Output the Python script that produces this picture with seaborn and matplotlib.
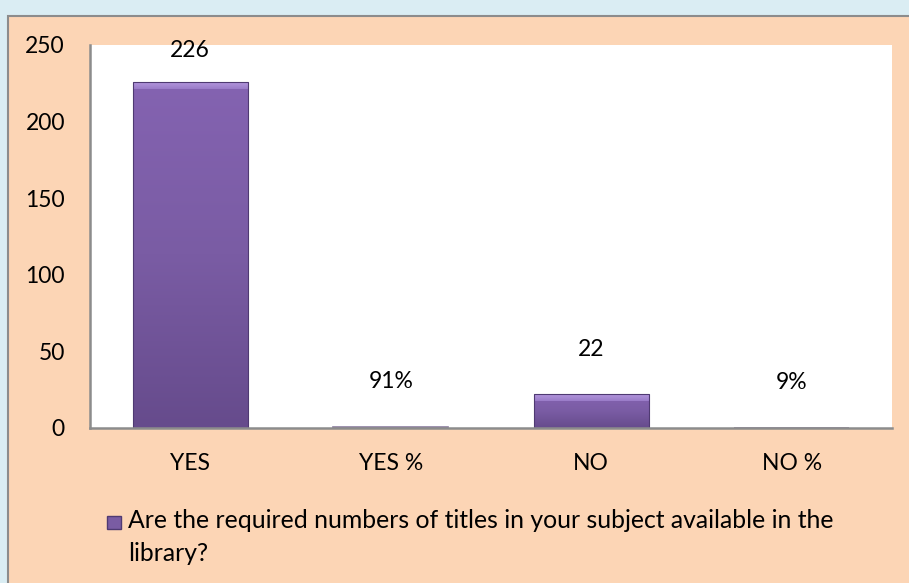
import numpy as np
import pandas as pd
import matplotlib
matplotlib.use("Agg")
import matplotlib.pyplot as plt
import seaborn as sns
from matplotlib.patches import Rectangle, Patch
from matplotlib.colors import LinearSegmentedColormap
from matplotlib.legend_handler import HandlerPatch

# ---- data ----
categories = ["YES", "YES %", "NO", "NO %"]
values = [226, 0.91, 22, 0.09]
value_labels = ["226", "91%", "22", "9%"]
series_name = "Are the required numbers of titles in your subject available in the\nlibrary?"
y_ticks = [0, 50, 100, 150, 200, 250]

FONT = ["Lato", "DejaVu Sans"]
sns.set_theme(style="white")
plt.rcParams["font.family"] = FONT

W, H = 909, 583
fig = plt.figure(figsize=(W / 100, H / 100), dpi=100)
fig.patch.set_facecolor("#daedf3")

# peach panel with gray border
panel = Rectangle((8 / W, -0.01), 1 - 8 / W + 0.01, 1 - 16 / H + 0.01, transform=fig.transFigure,
                  facecolor="#fcd5b5", edgecolor="#8c8c8c", linewidth=1.5, zorder=-5)
fig.patches.append(panel)

ax = fig.add_axes([90 / W, (H - 428) / H, (892 - 90) / W, (428 - 45) / H])
ax.set_zorder(2)
ax.set_facecolor("white")

df = pd.DataFrame({"cat": categories, "val": values})
sns.barplot(data=df, x="cat", y="val", ax=ax, color="#7f60a8", width=0.575,
            saturation=1, edgecolor="#4f3a72", linewidth=0.8)

FS = 16.5
ax.set_ylim(0, 250)
ax.set_xlim(-0.5, len(categories) - 0.5)
ax.set_yticks(y_ticks)
ax.set_yticklabels([str(t) for t in y_ticks], fontsize=FS, color="#000000")
ax.tick_params(axis="x", labelsize=FS, colors="#000000", pad=18, length=0)
ax.tick_params(axis="y", labelsize=FS, colors="#000000", pad=18, length=0)
ax.set_xlabel("")
ax.set_ylabel("")
for s in ["top", "right"]:
    ax.spines[s].set_visible(False)
for s in ["left", "bottom"]:
    ax.spines[s].set_color("#8c8c8c")
    ax.spines[s].set_linewidth(1.8)

# gradient fill on bars (bevel look)
px_per_unit = (428 - 45) / 250
body = LinearSegmentedColormap.from_list("body", ["#664b8c", "#7a5ca4", "#8463b1"])
bevel = LinearSegmentedColormap.from_list("bevel", ["#9a7cc8", "#b396dd"])
grad = np.linspace(0, 1, 256).reshape(-1, 1)
for p in list(ax.patches):
    x0, y0 = p.get_x(), p.get_y()
    w, h = p.get_width(), p.get_height()
    if h < 2:
        p.set_facecolor("#8c7fa0")
        p.set_edgecolor("#8c7fa0")
        p.set_linewidth(1.2)
        p.set_zorder(p.get_zorder() + 0.3)
        continue
    im = ax.imshow(grad, extent=[x0, x0 + w, y0, y0 + h], origin="lower", cmap=body,
                   aspect="auto", zorder=p.get_zorder() + 0.1)
    im.set_clip_path(p)
    bh = min(7 / px_per_unit, h * 0.5)
    im2 = ax.imshow(grad, extent=[x0, x0 + w, y0 + h - bh, y0 + h], origin="lower",
                    cmap=bevel, aspect="auto", zorder=p.get_zorder() + 0.2)
    im2.set_clip_path(p)
    p.set_zorder(p.get_zorder() + 0.3)
    p.set_facecolor("none")
ax.set_xlim(-0.5, len(categories) - 0.5)
ax.set_ylim(0, 250)

# value labels
for i, (v, lab) in enumerate(zip(values, value_labels)):
    y = min(v + 45 / px_per_unit, 250 - 6 / px_per_unit)
    ax.text(i, y, lab, ha="center", va="center", fontsize=FS, color="#000000",
            family=FONT, zorder=5)


# legend: marker aligned with first text line
def top_square(legend, orig_handle, xdescent, ydescent, width, height, fontsize):
    s = min(width, height)
    shift = fontsize * 0.66
    return Rectangle((-xdescent, -ydescent + shift), s, s)


handle = Patch(facecolor="#7a5ca3", edgecolor="#4f3a72")
leg = fig.legend([handle], [series_name], loc="upper left", bbox_to_anchor=(107 / W, 1 - 509 / H),
                 frameon=False, handlelength=0.55, handleheight=0.55, borderpad=0,
                 borderaxespad=0, handletextpad=0.3, prop={"family": FONT, "size": 17.8},
                 handler_map={Patch: HandlerPatch(patch_func=top_square)})
for t in leg.get_texts():
    t.set_color("#000000")
    t.set_linespacing(1.55)

fig.savefig("out.png", dpi=100)
